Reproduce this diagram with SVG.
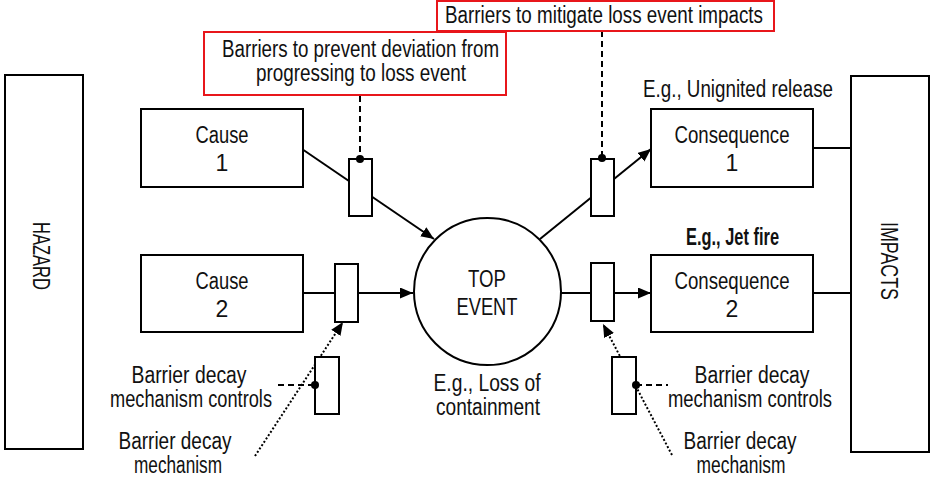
<svg xmlns="http://www.w3.org/2000/svg" width="936" height="483" viewBox="0 0 936 483">
<defs>
<style>
.box{fill:#fff;stroke:#000;stroke-width:2}
.red{fill:#fff;stroke:#e8161b;stroke-width:2}
.ln{stroke:#000;stroke-width:2;fill:none}
.dash{stroke-dasharray:6 4}
.dotl{stroke-dasharray:2 2}
.pin{fill:#000}
text{font-family:'Liberation Sans Narrow','Liberation Sans',Arial,sans-serif;font-size:23px;fill:#111;text-anchor:middle}
.b{font-weight:bold}
</style>
<marker id="ah" markerUnits="userSpaceOnUse" markerWidth="14" markerHeight="12" refX="13" refY="5.5" orient="auto">
<path d="M0,0 L13,5.5 L0,11 Z" fill="#000"/>
</marker>
</defs>
<rect width="936" height="483" fill="#fff"/>

<g id="connectors">
<line class="ln" x1="302" y1="149" x2="434" y2="239" marker-end="url(#ah)"/>
<line class="ln" x1="302" y1="293" x2="413" y2="293" marker-end="url(#ah)"/>
<line class="ln" x1="540" y1="239" x2="651" y2="149" marker-end="url(#ah)"/>
<line class="ln" x1="561" y1="293" x2="651" y2="293" marker-end="url(#ah)"/>
<line class="ln" x1="813" y1="148" x2="850" y2="148"/>
<line class="ln" x1="813" y1="293" x2="850" y2="293"/>
<line class="ln dotl" x1="255" y1="456" x2="343" y2="322" marker-end="url(#ah)"/>
<line class="ln dotl" x1="672" y1="455" x2="603" y2="324" marker-end="url(#ah)"/>
<line class="ln dash" x1="278" y1="385" x2="315" y2="385"/>
<line class="ln dash" x1="636" y1="385" x2="668" y2="385"/>
<line class="ln dash" x1="360" y1="96" x2="360" y2="159"/>
<line class="ln dash" x1="602" y1="31" x2="602" y2="158"/>
</g>

<g id="hazard">
<rect class="box" x="5" y="75" width="78" height="374"/>
<text transform="translate(33,256) rotate(90)" textLength="68" lengthAdjust="spacingAndGlyphs">HAZARD</text>
</g>
<g id="impacts">
<rect class="box" x="851" y="76" width="78" height="376"/>
<text transform="translate(881,261) rotate(90)" textLength="78" lengthAdjust="spacingAndGlyphs">IMPACTS</text>
</g>

<g id="cause1">
<rect class="box" x="141" y="109" width="162" height="78"/>
<text x="222" y="143" textLength="53" lengthAdjust="spacingAndGlyphs">Cause</text>
<text x="222" y="171">1</text>
</g>
<g id="cause2">
<rect class="box" x="141" y="255" width="162" height="77"/>
<text x="222" y="289" textLength="53" lengthAdjust="spacingAndGlyphs">Cause</text>
<text x="222" y="317">2</text>
</g>
<g id="consequence1">
<rect class="box" x="651" y="109" width="162" height="78"/>
<text x="732" y="143" textLength="115" lengthAdjust="spacingAndGlyphs">Consequence</text>
<text x="732" y="171">1</text>
</g>
<g id="consequence2">
<rect class="box" x="651" y="255" width="162" height="77"/>
<text x="732" y="289" textLength="115" lengthAdjust="spacingAndGlyphs">Consequence</text>
<text x="732" y="317">2</text>
</g>
<g id="top-event">
<circle class="box" cx="487.5" cy="291.5" r="73.5"/>
<text x="487" y="287" textLength="38" lengthAdjust="spacingAndGlyphs">TOP</text>
<text x="487" y="315" textLength="61" lengthAdjust="spacingAndGlyphs">EVENT</text>
</g>

<g id="barrier-c1">
<rect class="box" x="349" y="159" width="23" height="57"/>
<circle class="pin" cx="360" cy="159" r="4"/>
</g>
<g id="barrier-c2">
<rect class="box" x="335" y="264" width="23" height="58"/>
</g>
<g id="barrier-q1">
<rect class="box" x="591" y="159" width="23" height="57"/>
<circle class="pin" cx="602" cy="158" r="4"/>
</g>
<g id="barrier-q2">
<rect class="box" x="591" y="263" width="23" height="58"/>
</g>
<g id="decay-control-left">
<rect class="box" x="315" y="357" width="24" height="57"/>
<circle class="pin" cx="315" cy="385" r="4"/>
</g>
<g id="decay-control-right">
<rect class="box" x="612" y="357" width="24" height="57"/>
<circle class="pin" cx="636" cy="385" r="4"/>
</g>

<g id="label-mitigate">
<rect class="red" x="437" y="1" width="337" height="30"/>
<text x="604" y="23" textLength="318" lengthAdjust="spacingAndGlyphs">Barriers to mitigate loss event impacts</text>
</g>
<g id="label-prevent">
<rect class="red" x="204" y="32" width="302" height="63"/>
<text x="360.5" y="57" textLength="277" lengthAdjust="spacingAndGlyphs">Barriers to prevent deviation from</text>
<text x="361" y="81" textLength="210" lengthAdjust="spacingAndGlyphs">progressing to loss event</text>
</g>

<g id="annotations">
<text x="738" y="97" textLength="190" lengthAdjust="spacingAndGlyphs">E.g., Unignited release</text>
<text class="b" x="732.5" y="245" textLength="93" lengthAdjust="spacingAndGlyphs">E.g., Jet fire</text>
<text x="487" y="391" textLength="107" lengthAdjust="spacingAndGlyphs">E.g., Loss of</text>
<text x="488" y="415" textLength="104" lengthAdjust="spacingAndGlyphs">containment</text>
<text x="189" y="383" textLength="115" lengthAdjust="spacingAndGlyphs">Barrier decay</text>
<text x="191" y="407" textLength="162" lengthAdjust="spacingAndGlyphs">mechanism controls</text>
<text x="175" y="449" textLength="113" lengthAdjust="spacingAndGlyphs">Barrier decay</text>
<text x="178" y="473" textLength="88" lengthAdjust="spacingAndGlyphs">mechanism</text>
<text x="752" y="383" textLength="115" lengthAdjust="spacingAndGlyphs">Barrier decay</text>
<text x="750" y="407" textLength="164" lengthAdjust="spacingAndGlyphs">mechanism controls</text>
<text x="740" y="449" textLength="113" lengthAdjust="spacingAndGlyphs">Barrier decay</text>
<text x="741" y="473" textLength="89" lengthAdjust="spacingAndGlyphs">mechanism</text>
</g>
</svg>
